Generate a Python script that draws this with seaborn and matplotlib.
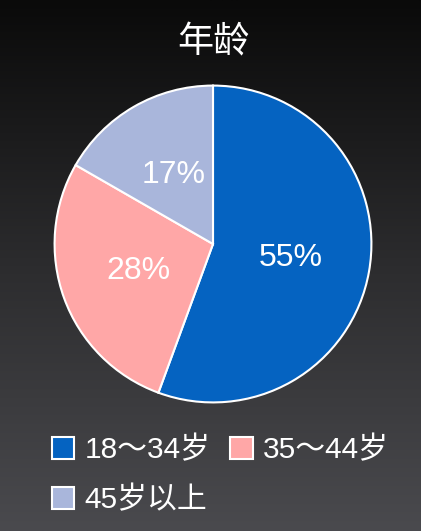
import matplotlib.pyplot as plt
import numpy as np
import seaborn as sns
from matplotlib.patches import Patch

# data
categories = ["18～34岁", "35～44岁", "45岁以上"]
shares = [55.6, 27.7, 16.7]
pct_labels = ["55%", "28%", "17%"]
slice_colors = ["#0563C1", "#FFA7A7", "#A9B6DB"]
title = "年龄"

sns.set_style("dark")
plt.rcParams["font.family"] = ["Liberation Sans", "Noto Sans CJK SC", "DejaVu Sans"]

W, H = 421, 531
fig = plt.figure(figsize=(W / 100, H / 100), dpi=100)

# dark gradient background
bg = fig.add_axes([0, 0, 1, 1])
grad = np.linspace(0, 1, 256).reshape(-1, 1)
bg.imshow(grad, aspect="auto", cmap=sns.blend_palette(["#0a0a0a", "#2c2c2e", "#4a4a4e"], as_cmap=True),
          extent=[0, 1, 0, 1])
bg.set_axis_off()

# pie, centre ~ (213, 244) px, radius 160 px
cx, cy, r = 213, 244, 160
ax = fig.add_axes([(cx - r) / W, (H - cy - r) / H, 2 * r / W, 2 * r / H])
label_iter = iter(pct_labels)
wedges, texts, autotexts = ax.pie(
    shares,
    colors=sns.color_palette(slice_colors),
    startangle=90,
    counterclock=False,
    autopct=lambda p: next(label_iter),
    pctdistance=0.5,
    wedgeprops={"edgecolor": "white", "linewidth": 1.5},
    textprops={"color": "white", "fontsize": 23},
)
ax.set_xlim(-1.01, 1.01)
ax.set_ylim(-1.01, 1.01)
ax.set_axis_off()

fig.text(cx / W, 1 - 42 / H, title, ha="center", va="center", color="white", fontsize=26,
         family=["Noto Sans CJK SC"])

# legend filled row by row: matplotlib fills columns first, so reorder
order = [0, 2, 1]
handles = [Patch(facecolor=slice_colors[i], edgecolor="white", linewidth=1.5) for i in order]
labels = [categories[i] for i in order]
leg = fig.legend(
    handles, labels,
    loc="upper left", bbox_to_anchor=(52 / W, 1 - 436 / H),
    ncol=2, frameon=False, fontsize=21.5,
    handlelength=0.75, handleheight=0.75, handletextpad=0.35,
    columnspacing=0.65, labelspacing=0.72, borderpad=0, borderaxespad=0,
)
for t in leg.get_texts():
    t.set_color("white")

plt.savefig("out.png", dpi=100)
